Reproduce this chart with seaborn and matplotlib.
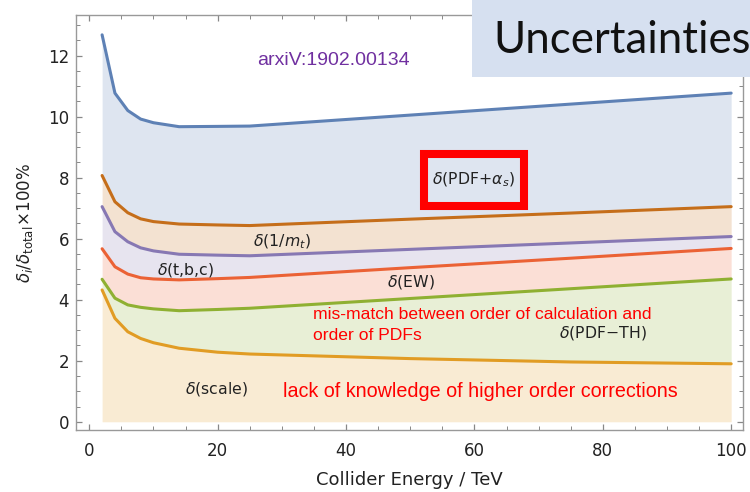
import numpy as np
import pandas as pd
import matplotlib
matplotlib.use("Agg")
import matplotlib.pyplot as plt
from matplotlib.patches import Rectangle
import seaborn as sns

# ---- data ----
energy = [2, 4, 6, 8, 10, 14, 20, 25, 50, 75, 100]
pdf_alphas = [12.68, 10.77, 10.20, 9.92, 9.80, 9.67, 9.68, 9.69, 10.05, 10.41, 10.77]
inv_mt     = [8.07, 7.21, 6.85, 6.65, 6.56, 6.48, 6.45, 6.43, 6.64, 6.84, 7.05]
tbc        = [7.05, 6.23, 5.90, 5.70, 5.60, 5.49, 5.46, 5.44, 5.65, 5.86, 6.07]
ew         = [5.67, 5.08, 4.84, 4.72, 4.68, 4.65, 4.69, 4.73, 5.05, 5.36, 5.68]
pdf_th     = [4.67, 4.05, 3.83, 3.75, 3.70, 3.64, 3.68, 3.72, 4.04, 4.36, 4.68]
scale      = [4.32, 3.39, 2.95, 2.73, 2.59, 2.41, 2.28, 2.22, 2.07, 1.96, 1.90]

series_names = ["PDF+as", "1/mt", "tbc", "EW", "PDF-TH", "scale"]
series_vals = [pdf_alphas, inv_mt, tbc, ew, pdf_th, scale]
colors = ["#5E81B5", "#C56E1A", "#8778B3", "#EB6235", "#8FB032", "#E19C24"]

band_labels = [r"$\delta$(PDF+$\alpha_s$)", r"$\delta$(1/$m_t$)", r"$\delta$(t,b,c)",
               r"$\delta$(EW)", r"$\delta$(PDF$-$TH)", r"$\delta$(scale)"]
note_mismatch = ["mis-match between order of calculation and", "order of PDFs"]
note_scale = "lack of knowledge of higher order corrections"
ref_text = "arxiV:1902.00134"
title_text = "Uncertainties"

xticks = [0, 20, 40, 60, 80, 100]
yticks = [0, 2, 4, 6, 8, 10, 12]

# ---- plotting ----
sns.set_theme(style="ticks")
plt.rcParams["font.family"] = ["DejaVu Sans"]
plt.rcParams["mathtext.fontset"] = "dejavusans"

df = pd.concat([pd.DataFrame({"energy": energy, "value": v, "source": n})
                for n, v in zip(series_names, series_vals)], ignore_index=True)

fig = plt.figure(figsize=(7.5, 4.92), dpi=100)
ax = fig.add_axes([0.1013, 0.126, 0.8890, 0.8435])

# filled bands
lowers = series_vals[1:] + [[0] * len(energy)]
for upper, lower, c in zip(series_vals, lowers, colors):
    ax.fill_between(energy, lower, upper, color=c, alpha=0.2, linewidth=0, zorder=1)

sns.lineplot(data=df, x="energy", y="value", hue="source", hue_order=series_names,
             palette=colors, linewidth=2.2, legend=False, ax=ax, zorder=3)

ax.set_xlim(-2.07, 101.8)
ax.set_ylim(-0.27, 13.33)
ax.set_xticks(xticks)
ax.set_yticks(yticks)
ax.set_xticks(np.arange(0, 101, 5), minor=True)
ax.set_yticks(np.arange(0, 13.01, 0.5), minor=True)
ax.tick_params(which="both", direction="in", top=True, right=True,
               color="#888888", labelsize=12, labelcolor="#222222")
ax.tick_params(which="major", length=4.5, width=0.9)
ax.tick_params(which="minor", length=2.8, width=0.7)
ax.tick_params(axis="x", which="major", pad=8.5)
ax.tick_params(axis="y", which="major", pad=5)
for s in ax.spines.values():
    s.set_color("#999999")
    s.set_linewidth(1.0)

ax.set_xlabel("Collider Energy / TeV", fontsize=13, color="#222222", labelpad=8)
ax.set_ylabel(r"$\delta_i/\delta_{\mathrm{total}}\!\times\!100\%$", fontsize=12,
              color="#222222", labelpad=9)

# band labels
lab_pos = [(59.9, 7.93), (30.0, 5.90), (14.95, 4.97), (50.1, 4.59), (80.1, 2.90), (19.9, 1.08)]
for txt, (x, y) in zip(band_labels, lab_pos):
    ax.text(x, y, txt, fontsize=11.3, ha="center", va="center", color="#222222", zorder=5)

for line, y in zip(note_mismatch, [3.50, 2.84]):
    ax.text(34.9, y, line, fontsize=12.6, color="#FF0000", ha="left", va="center",
            family=["Liberation Sans"], zorder=5)
ax.text(30.2, 1.0, note_scale, fontsize=14.2, color="#FF0000", ha="left", va="center",
        family=["Liberation Sans"], zorder=5)
ax.text(38.0, 11.85, ref_text, fontsize=14.0, color="#7030A0", ha="center", va="center",
        family=["Liberation Sans"], zorder=5)

# red highlight box
ax.add_patch(Rectangle((52.1, 7.07), 15.6, 1.71, fill=False, edgecolor="#FF0000",
                       linewidth=5.8, zorder=6))

# title box
fig.patches.append(Rectangle((472 / 750, 1 - 77 / 492), 1 - 472 / 750, 77 / 492,
                             transform=fig.transFigure, facecolor="#D6E0F0",
                             edgecolor="none", zorder=10))
fig.text(493 / 750, 1 - 53.3 / 492, title_text, fontsize=31.5, family=["Lato"],
         color="#111111", ha="left", va="baseline", zorder=11)

fig.savefig("out.png", dpi=100)
